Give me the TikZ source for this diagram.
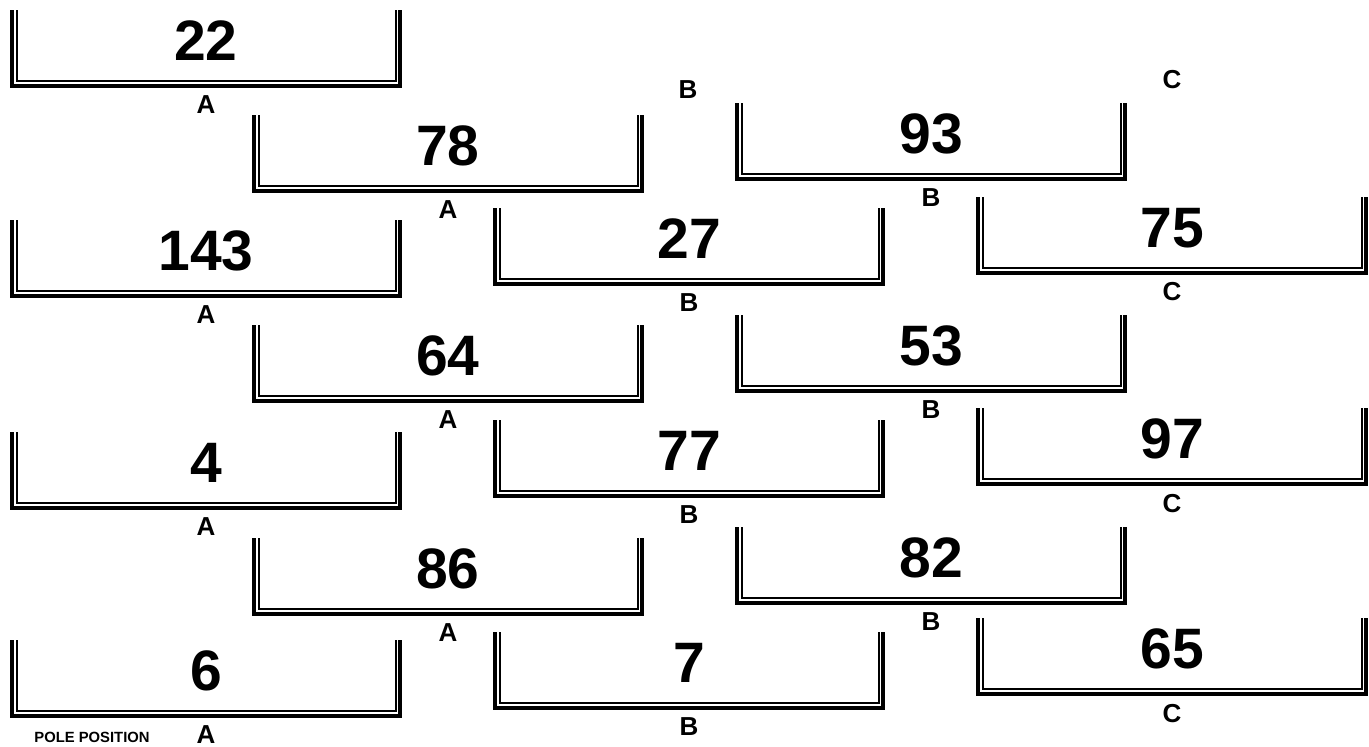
\documentclass[tikz,border=0pt]{standalone}
\usepackage{fontspec}
\setmainfont{Liberation Sans}
\setsansfont{Liberation Sans}
\usetikzlibrary{positioning}
\definecolor{ink}{HTML}{000000}
\definecolor{paper}{HTML}{FFFFFF}
\tikzset{
  font=\sffamily\bfseries,
  outerline/.style={
    draw=ink,
    line width=1.6pt
  },
  innerline/.style={
    draw=ink,
    line width=1pt
  },
  valuetext/.style={
    font=\sffamily\bfseries\fontsize{28.5}{30}\selectfont,
    text=ink,
    inner sep=0pt
  },
  lanetext/.style={
    font=\sffamily\bfseries\fontsize{13}{15}\selectfont,
    text=ink,
    inner sep=0pt
  },
  notetext/.style={
    font=\sffamily\bfseries\fontsize{7.4}{8}\selectfont,
    text=ink,
    inner sep=0pt
  }
}

\begin{document}
\begin{tikzpicture}[x=0.5pt, y=-0.5pt]
  \fill[paper] (0,0) rectangle (1369,746);
  \useasboundingbox (0,0) rectangle (1369,746);

  % troughs: left x / top y / number / lane / name
  \foreach \lx/\ty/\num/\lane/\id in {
      12/10/22/A/a1, 12/220/143/A/a2, 12/432/4/A/a3, 12/640/6/A/a4,
      254/115/78/A/a5, 254/325/64/A/a6, 254/538/86/A/a7,
      495/208/27/B/b1, 495/420/77/B/b2, 495/632/7/B/b3,
      737/103/93/B/b4, 737/315/53/B/b5, 737/527/82/B/b6,
      978/197/75/C/c1, 978/408/97/C/c2, 978/618/65/C/c3} {
    \draw[outerline] (\lx,\ty) -- (\lx,\ty+76) -- (\lx+388,\ty+76) -- (\lx+388,\ty);
    \draw[innerline] (\lx+4.5,\ty) -- (\lx+4.5,\ty+71) -- (\lx+384,\ty+71) -- (\lx+384,\ty);
    \node[valuetext] (num-\id) at (\lx+194,\ty+31) {\num};
    \node[lanetext, below=17pt of num-\id] (lane-\id) {\lane};
  }

  \node[lanetext] (lane-top-b) at (688,90) {B};
  \node[lanetext] (lane-top-c) at (1172,80) {C};
  \node[notetext] (pole) at (92,737) {POLE POSITION};
\end{tikzpicture}
\end{document}
